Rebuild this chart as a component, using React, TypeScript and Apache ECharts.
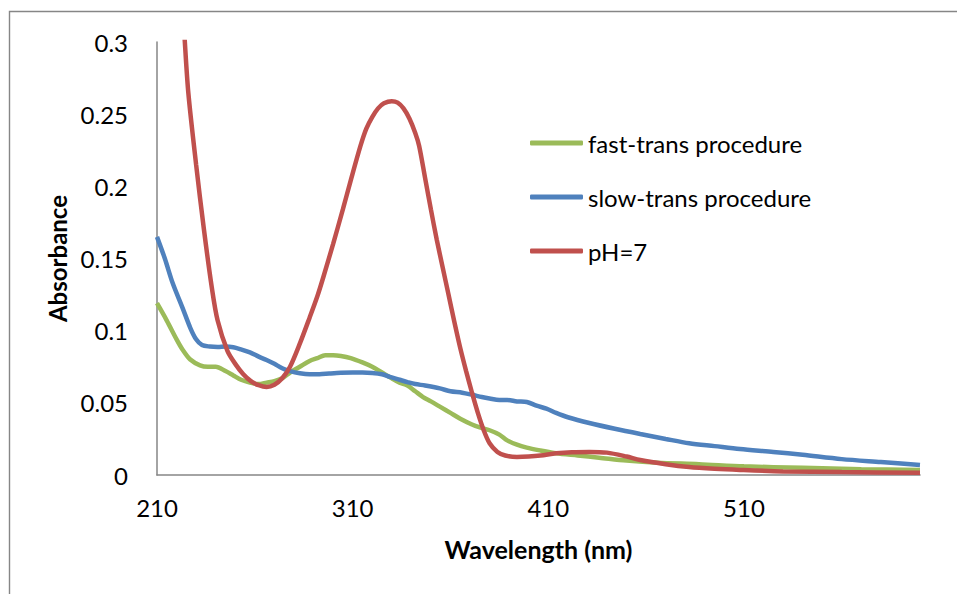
import React, { useEffect, useRef } from "react";
import * as echarts from "echarts";

const seriesNames = ["fast-trans procedure", "slow-trans procedure", "pH=7"];
const seriesColors = ["#9BBB59", "#4F81BD", "#C0504D"];

const fastTrans: [number, number][] = [
  [210, 0.119], [215, 0.107], [220, 0.094], [223, 0.087], [227, 0.08], [232, 0.076],
  [236, 0.075], [240, 0.075], [245, 0.072], [249, 0.069], [253, 0.066], [257.5, 0.064],
  [262, 0.063], [266, 0.064], [270, 0.065], [274, 0.067], [278, 0.071], [283, 0.075],
  [288, 0.079], [292, 0.081], [296, 0.083], [300, 0.083], [304, 0.0825], [309, 0.081],
  [315, 0.078], [320, 0.075], [325, 0.071], [330, 0.067], [334, 0.064], [338, 0.062],
  [342, 0.058], [346, 0.054], [350, 0.051], [355, 0.047], [360, 0.043], [365, 0.039],
  [371, 0.035], [375, 0.033], [380, 0.031], [385, 0.028], [389, 0.024], [394, 0.021],
  [399, 0.019], [406, 0.017], [414, 0.015], [425, 0.0135], [436, 0.012], [450, 0.01],
  [466, 0.0085], [487, 0.0075], [510, 0.006], [540, 0.005], [570, 0.004], [600, 0.0035],
];

const slowTrans: [number, number][] = [
  [210, 0.165], [214, 0.15], [218, 0.133], [223, 0.116], [227, 0.102], [230, 0.094],
  [233, 0.09], [237, 0.089], [241, 0.0887], [245, 0.089], [249, 0.0885], [253, 0.087],
  [257.5, 0.085], [262, 0.082], [266, 0.0797], [270, 0.077], [274, 0.074], [278, 0.072],
  [283, 0.0705], [288, 0.0698], [293, 0.0698], [298, 0.0703], [304, 0.0708], [310, 0.071],
  [315, 0.071], [320, 0.0707], [325, 0.0698], [329, 0.068], [334, 0.066], [338, 0.0644],
  [342, 0.063], [347, 0.062], [354.6, 0.06], [360, 0.058], [366, 0.057], [371.5, 0.0554],
  [376, 0.054], [380, 0.053], [385, 0.052], [389, 0.052], [394, 0.051], [399, 0.0506],
  [404, 0.048], [409, 0.046], [414, 0.043], [420, 0.04], [431, 0.036], [444, 0.032],
  [457, 0.0284], [470, 0.025], [482, 0.022], [495, 0.02], [508, 0.018], [525, 0.016],
  [540, 0.014], [560, 0.011], [580, 0.009], [600, 0.007],
];

const ph7: [number, number][] = [
  [220, 0.39], [224, 0.305], [226, 0.265], [230, 0.215], [234, 0.17], [238, 0.13],
  [241, 0.107], [246, 0.086], [250, 0.077], [254, 0.07], [258, 0.065], [262, 0.0622],
  [266, 0.061], [270, 0.0625], [274, 0.067], [278, 0.075], [283, 0.091], [288, 0.109],
  [292, 0.124], [295, 0.137], [300, 0.16], [305, 0.184], [309, 0.204], [314, 0.228],
  [317, 0.24], [320, 0.248], [323, 0.254], [326, 0.2575], [330, 0.259], [333, 0.258],
  [336, 0.254], [339, 0.247], [342, 0.237], [344, 0.228], [347, 0.206], [350, 0.184],
  [353, 0.163], [356, 0.144], [359, 0.125], [362, 0.106], [365, 0.088], [368, 0.072],
  [371, 0.057], [374, 0.043], [377, 0.031], [380, 0.022], [384, 0.016], [388, 0.0135],
  [394, 0.0125], [400, 0.0128], [406, 0.0135], [414, 0.015], [422, 0.0158], [431, 0.016],
  [440, 0.0155], [450, 0.0128], [457, 0.0104], [470, 0.0075], [482, 0.0055], [495, 0.0043],
  [508, 0.0035], [530, 0.0025], [560, 0.002], [600, 0.0015],
];

const seriesData = [fastTrans, slowTrans, ph7];

const FONT = "Lato";

export default function App() {
  const ref = useRef<HTMLDivElement>(null);
  useEffect(() => {
    if (!ref.current) return;
    const chart = echarts.init(ref.current, undefined, { renderer: "svg" });
    chart.setOption({
      animation: false,
      backgroundColor: "#ffffff",
      textStyle: { fontFamily: FONT },
      graphic: [
        {
          type: "rect",
          shape: { x: 9.5, y: 11.5, width: 1200, height: 900 },
          style: { fill: "none", stroke: "#868686", lineWidth: 1.4 },
          silent: true,
        },
      ],
      grid: { left: 157, right: 37, top: 42, bottom: 119, containLabel: false },
      legend: {
        orient: "vertical",
        left: 530,
        top: 128,
        padding: 0,
        itemWidth: 53,
        itemHeight: 5,
        itemGap: 24,
        icon: "roundRect",
        data: seriesNames,
        textStyle: { fontFamily: FONT, fontSize: 24, color: "#000", lineHeight: 30 },
      },
      xAxis: {
        type: "value",
        min: 210,
        max: 600,
        interval: 100,
        name: "Wavelength (nm)",
        nameLocation: "middle",
        nameGap: 61,
        nameTextStyle: { fontFamily: FONT, fontSize: 25, fontWeight: "bold", color: "#000" },
        axisLine: { show: true, lineStyle: { color: "#868686", width: 1.5 } },
        axisTick: { show: false },
        splitLine: { show: false },
        axisLabel: {
          fontFamily: FONT,
          fontSize: 24,
          color: "#000",
          margin: 20,
          showMaxLabel: false,
        },
      },
      yAxis: {
        type: "value",
        min: 0,
        max: 0.3,
        interval: 0.05,
        name: "Absorbance",
        nameLocation: "middle",
        nameGap: 84,
        nameRotate: 90,
        nameTextStyle: { fontFamily: FONT, fontSize: 24, fontWeight: "bold", color: "#000" },
        axisLine: { show: true, lineStyle: { color: "#868686", width: 1.5 } },
        axisTick: { show: false },
        splitLine: { show: false },
        axisLabel: {
          fontFamily: FONT,
          fontSize: 24,
          color: "#000",
          margin: 29,
          formatter: (v: number) => String(Math.round(v * 100) / 100),
        },
      },
      series: seriesNames.map((name, i) => ({
        name,
        type: "line",
        data: seriesData[i],
        showSymbol: false,
        symbol: "none",
        smooth: 0.3,
        clip: true,
        color: seriesColors[i],
        lineStyle: { color: seriesColors[i], width: 4.5 },
      })),
    });
    return () => chart.dispose();
  }, []);
  return (
    <div
      ref={ref}
      style={{ position: "absolute", left: 0, top: 0, width: 957, height: 594 }}
    />
  );
}
